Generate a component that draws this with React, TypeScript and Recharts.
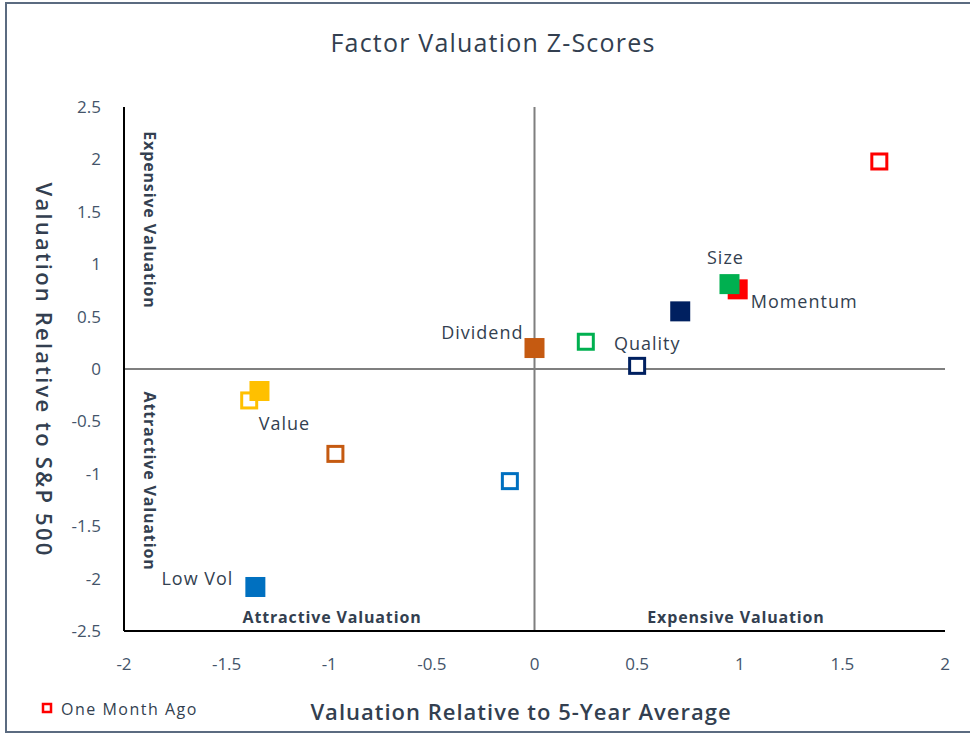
import React from 'react';
import { ScatterChart, Scatter, XAxis, YAxis, ReferenceLine } from 'recharts';

const factors = ['Momentum', 'Size', 'Quality', 'Dividend', 'Value', 'Low Vol'];
const currentX = [0.99, 0.95, 0.71, 0.0, -1.34, -1.36];
const currentY = [0.76, 0.81, 0.55, 0.2, -0.21, -2.08];
const monthAgoX = [1.68, 0.25, 0.5, -0.97, -1.39, -0.12];
const monthAgoY = [1.98, 0.26, 0.03, -0.81, -0.3, -1.07];
const xTicks = [-2, -1.5, -1, -0.5, 0, 0.5, 1, 1.5, 2];
const yTicks = [-2.5, -2, -1.5, -1, -0.5, 0, 0.5, 1, 1.5, 2, 2.5];

const factorColors: Record<string, string> = {
  Momentum: '#ff0000',
  Size: '#00b050',
  Quality: '#002060',
  Dividend: '#c55a11',
  Value: '#ffc000',
  'Low Vol': '#0070c0',
};

// where each factor's name sits relative to its current marker
const labelPlacement: Record<string, { dx: number; dy: number; anchor: 'start' | 'middle' | 'end' }> = {
  Momentum: { dx: 13, dy: 12, anchor: 'start' },
  Size: { dx: -4, dy: -27, anchor: 'middle' },
  Quality: { dx: -33, dy: 32, anchor: 'middle' },
  Dividend: { dx: -11, dy: -16, anchor: 'end' },
  Value: { dx: 25, dy: 32, anchor: 'middle' },
  'Low Vol': { dx: -22, dy: -9, anchor: 'end' },
};

const current = factors.map((name, i) => ({ name, x: currentX[i], y: currentY[i] }));
const monthAgo = factors.map((name, i) => ({ name, x: monthAgoX[i], y: monthAgoY[i] }));

const textColor = '#333f50';
const font = '"Open Sans", "Noto Sans", sans-serif';

const FilledSquare = (props: any) => {
  const { cx, cy, payload } = props;
  const p = labelPlacement[payload.name];
  return (
    <g>
      <rect x={cx - 10} y={cy - 10} width={20} height={20} fill={factorColors[payload.name]} />
      <text
        x={cx + p.dx}
        y={cy + p.dy}
        textAnchor={p.anchor}
        dominantBaseline="central"
        fontFamily={font}
        fontSize={18}
        letterSpacing={1}
        fill={textColor}
      >
        {payload.name}
      </text>
    </g>
  );
};

const HollowSquare = (props: any) => {
  const { cx, cy, payload } = props;
  return (
    <rect
      x={cx - 7.5}
      y={cy - 7.5}
      width={15}
      height={15}
      fill="#fff"
      stroke={factorColors[payload.name]}
      strokeWidth={3}
    />
  );
};

const fmt = (v: number) => String(v);

export default function App() {
  return (
    <div style={{ position: 'absolute', left: 0, top: 0, width: 970, height: 734, background: '#fff' }}>
      <ScatterChart width={970} height={734} margin={{ top: 107, right: 25, bottom: 63, left: 64 }}>
        <XAxis
          type="number"
          dataKey="x"
          domain={[-2, 2]}
          ticks={xTicks}
          tickFormatter={fmt}
          height={40}
          tickLine={false}
          tickMargin={21}
          axisLine={{ stroke: '#000', strokeWidth: 2 }}
          tick={{ fill: '#44546a', fontSize: 17, fontFamily: font }}
          allowDataOverflow
        />
        <YAxis
          type="number"
          dataKey="y"
          domain={[-2.5, 2.5]}
          ticks={yTicks}
          tickFormatter={fmt}
          width={60}
          tickLine={false}
          tickMargin={17}
          axisLine={{ stroke: '#000', strokeWidth: 2 }}
          tick={{ fill: '#44546a', fontSize: 17, fontFamily: font }}
          allowDataOverflow
        />
        <ReferenceLine x={0} stroke="#7f7f7f" strokeWidth={2} />
        <ReferenceLine y={0} stroke="#7f7f7f" strokeWidth={2} />
        <Scatter data={monthAgo} shape={HollowSquare} isAnimationActive={false} />
        <Scatter data={current} shape={FilledSquare} isAnimationActive={false} />
      </ScatterChart>
      <svg
        width={970}
        height={734}
        style={{ position: 'absolute', left: 0, top: 0, pointerEvents: 'none' }}
        fontFamily={font}
      >
        <rect x={6} y={3} width={970} height={729} fill="none" stroke="#5b6b80" strokeWidth={2} />
        <text x={493} y={52} textAnchor="middle" fontSize={25} letterSpacing={1.2} fill={textColor}>
          Factor Valuation Z-Scores
        </text>
        <text
          transform="translate(45,370) rotate(90)"
          textAnchor="middle"
          dominantBaseline="central"
          fontSize={22}
          fontWeight={600}
          letterSpacing={2.2}
          fill={textColor}
        >
          Valuation Relative to S&amp;P 500
        </text>
        <text x={521} y={720} textAnchor="middle" fontSize={22} fontWeight={600} letterSpacing={1} fill={textColor}>
          Valuation Relative to 5-Year Average
        </text>
        <text
          transform="translate(150,220) rotate(90)"
          textAnchor="middle"
          dominantBaseline="central"
          fontSize={16}
          fontWeight={700}
          letterSpacing={0.85}
          fill={textColor}
        >
          Expensive Valuation
        </text>
        <text
          transform="translate(150,481) rotate(90)"
          textAnchor="middle"
          dominantBaseline="central"
          fontSize={16}
          fontWeight={700}
          letterSpacing={0.85}
          fill={textColor}
        >
          Attractive Valuation
        </text>
        <text x={332} y={623} textAnchor="middle" fontSize={16} fontWeight={700} letterSpacing={0.85} fill={textColor}>
          Attractive Valuation
        </text>
        <text x={736} y={623} textAnchor="middle" fontSize={16} fontWeight={700} letterSpacing={0.85} fill={textColor}>
          Expensive Valuation
        </text>
        <rect x={43} y={704} width={8} height={8} fill="#fff" stroke="#ff0000" strokeWidth={2.5} />
        <text x={61} y={715} fontSize={16} letterSpacing={1.5} fill={textColor}>
          One Month Ago
        </text>
      </svg>
    </div>
  );
}
